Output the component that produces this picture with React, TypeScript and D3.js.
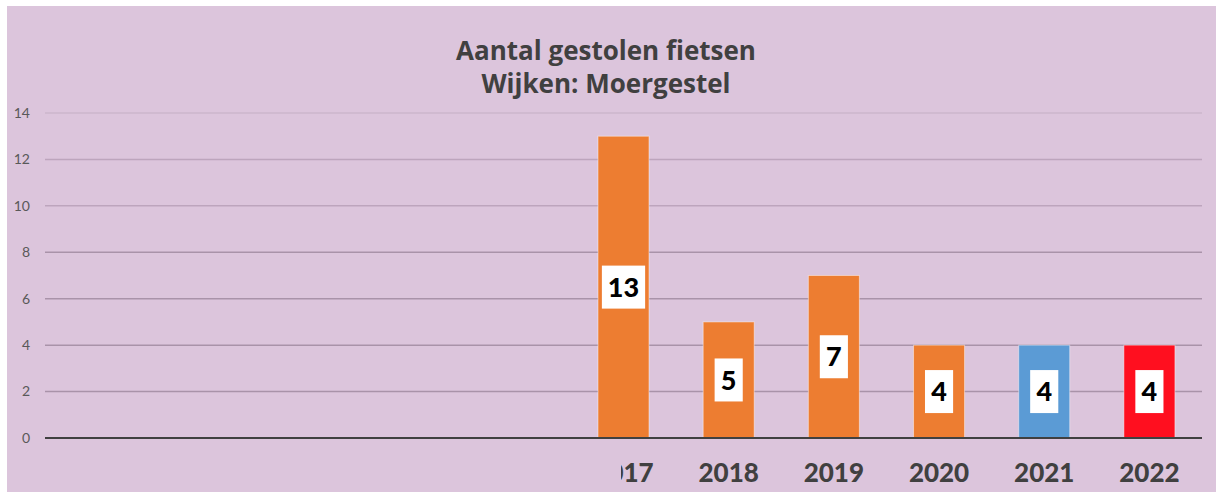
import React from "react";
import * as d3 from "d3";

const years = ["2012", "2013", "2014", "2015", "2016", "2017", "2018", "2019", "2020", "2021", "2022"];
const values: (number | null)[] = [null, null, null, null, null, 13, 5, 7, 4, 4, 4];
const barColors = ["#ED7D31", "#ED7D31", "#ED7D31", "#ED7D31", "#ED7D31", "#ED7D31", "#ED7D31", "#ED7D31", "#ED7D31", "#5B9BD5", "#FF0F1F"];
const yTicks = [0, 2, 4, 6, 8, 10, 12, 14];
const titleLines = ["Aantal gestolen fietsen", "Wijken: Moergestel"];

const W = 1216;
const H = 492;
const FONT = "Lato, 'Open Sans', sans-serif";
const TFONT = "'Open Sans', Lato, sans-serif";

export default function App() {
  const x = d3.scaleBand<string>().domain(years).range([45, 1202]).paddingInner(0.515).paddingOuter(0.2575);
  const y = d3.scaleLinear().domain([0, 14]).range([438, 113]);
  const bw = x.bandwidth();
  const labelFont = 27;

  return (
    <div style={{ position: "absolute", left: 0, top: 0 }}>
      <svg width={W} height={H} style={{ display: "block", fontVariantLigatures: "none" }}>
        <defs>
          <clipPath id="xlabclip">
            <rect x={621} y={440} width={W - 621} height={52} />
          </clipPath>
        </defs>
        <rect x={0} y={0} width={W} height={H} fill="#ffffff" />
        <rect x={7} y={6} width={W - 7} height={H - 6} fill="#DCC5DC" />
        {titleLines.map((t, i) => (
          <text key={t} x={606} y={60 + i * 33} textAnchor="middle" fontFamily={TFONT} fontWeight="bold" fontSize={26} fill="#404040">
            {t}
          </text>
        ))}
        {yTicks.map((t) => (
          <g key={t}>
            {t !== 0 && (
              <line x1={45} x2={1202} y1={y(t)} y2={y(t)} stroke={t >= 14 ? "#CDB6CD" : t >= 10 ? "#BDA5BD" : "#A993A9"} strokeWidth={1.5} />
            )}
            <text x={30} y={y(t)} dy="0.35em" textAnchor="end" fontFamily={FONT} fontSize={14} fill="#595959">
              {t}
            </text>
          </g>
        ))}
        {years.map((yr, i) => {
          const v = values[i];
          if (v == null) return null;
          const x0 = x(yr)!;
          const top = y(v);
          const mid = (top + y(0)) / 2;
          const txt = String(v);
          const boxW = txt.length * labelFont * 0.56 + 13;
          return (
            <g key={yr}>
              <rect x={x0} y={top} width={bw} height={y(0) - top} fill={barColors[i]} stroke="rgba(255,255,255,0.45)" strokeWidth={1} />
              <rect x={x0 + bw / 2 - boxW / 2} y={mid - 21.5} width={boxW} height={43} fill="#ffffff" />
              <text x={x0 + bw / 2} y={mid} dy="0.36em" textAnchor="middle" fontFamily={FONT} fontWeight="900" fontSize={labelFont} fill="#000000">
                {txt}
              </text>
            </g>
          );
        })}
        <line x1={45} x2={1202} y1={y(0)} y2={y(0)} stroke="#404040" strokeWidth={2} />
        <g clipPath="url(#xlabclip)">
          {years.map((yr, i) =>
            values[i] == null ? null : (
              <text key={yr} x={x(yr)! + bw / 2} y={482} textAnchor="middle" fontFamily={FONT} fontWeight="900" fontSize={26} fill="#404040">
                {yr}
              </text>
            )
          )}
        </g>
      </svg>
    </div>
  );
}
